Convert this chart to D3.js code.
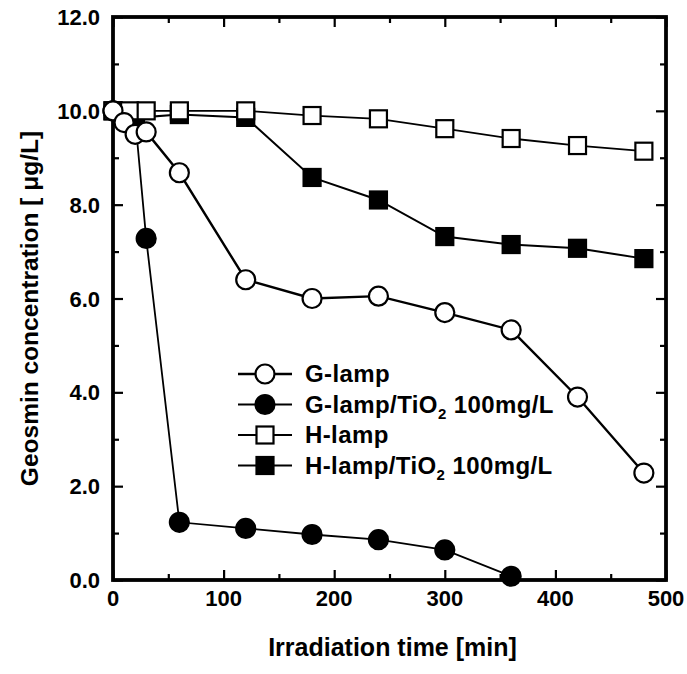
<!DOCTYPE html>
<html>
<head>
  <title>Geosmin concentration vs irradiation time</title>
  <script src="https://d3js.org/d3.v7.min.js"></script>
  <style>
    body { margin: 0; background: #fff; }
    text { font-family: "Liberation Sans", Arial, sans-serif; font-weight: bold; fill: #000; }
  </style>
</head>
<body>

<div id="chart"></div>

<script>
// Data
const gLamp = [
  [0, 10.0], [10, 9.75], [20, 9.5], [30, 9.55], [60, 8.68], [120, 6.4],
  [180, 6.0], [240, 6.05], [300, 5.7], [360, 5.33], [420, 3.9], [480, 2.28]
];
const gLampTiO2 = [
  [0, 10.0], [20, 9.85], [30, 7.28], [60, 1.23], [120, 1.1],
  [180, 0.97], [240, 0.86], [300, 0.64], [360, 0.08]
];
const hLamp = [
  [0, 10.0], [15, 10.0], [30, 10.0], [60, 10.0], [120, 10.0], [180, 9.9],
  [240, 9.83], [300, 9.62], [360, 9.41], [420, 9.26], [480, 9.14]
];
const hLampTiO2 = [
  [0, 10.0], [20, 9.85], [60, 9.92], [120, 9.86], [180, 8.58], [240, 8.1],
  [300, 7.32], [360, 7.15], [420, 7.07], [480, 6.85]
];

const xTicks = [0, 100, 200, 300, 400, 500];
const yTicks = [0, 2, 4, 6, 8, 10, 12];

const series = [
  { name: "G-lamp", sub: null, data: gLamp, shape: "circle", fill: "#fff", lw: 2.4 },
  { name: "G-lamp/TiO", sub: "2", tail: " 100mg/L", data: gLampTiO2, shape: "circle", fill: "#000", lw: 1.8 },
  { name: "H-lamp", sub: null, data: hLamp, shape: "square", fill: "#fff", lw: 1.8 },
  { name: "H-lamp/TiO", sub: "2", tail: " 100mg/L", data: hLampTiO2, shape: "square", fill: "#000", lw: 2 }
];

const W = 687, H = 674;
const margin = { top: 17, right: 21, bottom: 94, left: 113 };
const width = W - margin.left - margin.right;
const height = H - margin.top - margin.bottom;

const svg = d3.select("#chart").append("svg")
  .attr("width", W).attr("height", H);

const g = svg.append("g")
  .attr("transform", `translate(${margin.left},${margin.top})`);

const x = d3.scaleLinear().domain([0, 500]).range([0, width]);
const y = d3.scaleLinear().domain([0, 12]).range([height, 0]);

// inward ticks on all four sides
function tickAxis(axis, scale, ticks, len, transform) {
  const a = g.append("g").attr("transform", transform)
    .call(axis(scale).tickValues(ticks).tickSize(-len).tickFormat(""));
  a.select(".domain").remove();
  a.selectAll("line").attr("stroke", "#000").attr("stroke-width", 2.2);
}
const xMinor = d3.range(50, 500, 100);
const yMinor = d3.range(1, 12, 2);
tickAxis(d3.axisBottom, x, xTicks, 10, `translate(0,${height})`);
tickAxis(d3.axisBottom, x, xMinor, 6, `translate(0,${height})`);
tickAxis(d3.axisTop, x, xTicks, 10, "translate(0,0)");
tickAxis(d3.axisTop, x, xMinor, 6, "translate(0,0)");
tickAxis(d3.axisLeft, y, yTicks, 10, "translate(0,0)");
tickAxis(d3.axisLeft, y, yMinor, 6, "translate(0,0)");
tickAxis(d3.axisRight, y, yTicks, 10, `translate(${width},0)`);
tickAxis(d3.axisRight, y, yMinor, 6, `translate(${width},0)`);

// frame
g.append("rect")
  .attr("width", width).attr("height", height)
  .attr("fill", "none").attr("stroke", "#000").attr("stroke-width", 3.8);

// tick labels
g.selectAll(".xl").data(xTicks).enter().append("text")
  .attr("x", d => x(d)).attr("y", height + 26)
  .attr("text-anchor", "middle").style("font-size", "22px")
  .text(d => d);
g.selectAll(".yl").data(yTicks).enter().append("text")
  .attr("x", -13).attr("y", d => y(d) + 8)
  .attr("text-anchor", "end").style("font-size", "22px")
  .text(d => d.toFixed(1));

// axis titles
svg.append("text")
  .attr("x", margin.left + width / 2 + 3).attr("y", 656)
  .attr("text-anchor", "middle").style("font-size", "25px")
  .text("Irradiation time [min]");
svg.append("text")
  .attr("transform", `translate(38,${margin.top + height / 2 + 10}) rotate(-90)`)
  .attr("text-anchor", "middle").style("font-size", "24.5px")
  .text("Geosmin concentration [ \u03bcg/L]");

const line = d3.line().x(d => x(d[0])).y(d => y(d[1]));

function marker(sel, s) {
  if (s.shape === "circle") {
    sel.append("circle").attr("r", 9.5)
      .attr("fill", s.fill).attr("stroke", "#000").attr("stroke-width", 2.2);
  } else {
    sel.append("rect").attr("x", -8.5).attr("y", -8.5)
      .attr("width", 17).attr("height", 17)
      .attr("fill", s.fill).attr("stroke", "#000").attr("stroke-width", 2.2);
  }
}

// draw open-marker series last so they sit on top like in the figure
[series[1], series[3], series[2], series[0]].forEach(s => {
  g.append("path").datum(s.data)
    .attr("d", line).attr("fill", "none")
    .attr("stroke", "#000").attr("stroke-width", s.lw);
  g.selectAll(null).data(s.data).enter().append("g")
    .attr("transform", d => `translate(${x(d[0])},${y(d[1])})`)
    .each(function () { marker(d3.select(this), s); });
});

// legend
const legend = svg.append("g").attr("transform", "translate(238,374)");
series.forEach((s, i) => {
  const row = legend.append("g").attr("transform", `translate(0,${i * 30.5})`);
  row.append("line").attr("x1", 0).attr("x2", 54)
    .attr("stroke", "#000").attr("stroke-width", s.lw);
  const m = row.append("g").attr("transform", "translate(27,0)");
  marker(m, s);
  const t = row.append("text").attr("x", 67).attr("y", 8)
    .style("font-size", "24px").style("letter-spacing", "0.4px");
  t.append("tspan").text(s.name);
  if (s.sub) {
    t.append("tspan").attr("dy", 6).style("font-size", "15px").text(s.sub);
    t.append("tspan").attr("dy", -6).text(s.tail);
  }
});
</script>

</body>
</html>
